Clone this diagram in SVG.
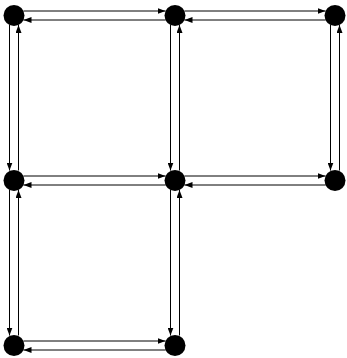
<svg xmlns="http://www.w3.org/2000/svg" width="347" height="358" viewBox="0 0 347 358">
<style>
.e{fill:none;stroke:#000;stroke-width:1;marker-end:url(#ah)}
.n{fill:#000}
</style>
<defs>
<marker id="ah" markerUnits="userSpaceOnUse" markerWidth="9" markerHeight="6" refX="8" refY="3" orient="auto">
<path d="M0,0 L8,3 L0,6 z" fill="#000"/>
</marker>
</defs>
<rect width="347" height="358" fill="#fff"/>
<g id="connectors">
<path class="e" d="M23.5,11 L165.5,11"/>
<path class="e" d="M165.5,20 L23.5,20"/>
<path class="e" d="M184.5,11 L325.5,11"/>
<path class="e" d="M325.5,20 L184.5,20"/>
<path class="e" d="M23.5,176 L165.5,176"/>
<path class="e" d="M165.5,185 L23.5,185"/>
<path class="e" d="M184.5,176 L325.5,176"/>
<path class="e" d="M325.5,185 L184.5,185"/>
<path class="e" d="M23.5,341 L165.5,341"/>
<path class="e" d="M165.5,350 L23.5,350"/>
<path class="e" d="M9.5,25 L9.5,170.5"/>
<path class="e" d="M18.5,170.5 L18.5,25"/>
<path class="e" d="M9.5,190 L9.5,335.5"/>
<path class="e" d="M18.5,335.5 L18.5,190"/>
<path class="e" d="M170.5,25 L170.5,170.5"/>
<path class="e" d="M179.5,170.5 L179.5,25"/>
<path class="e" d="M170.5,190 L170.5,335.5"/>
<path class="e" d="M179.5,335.5 L179.5,190"/>
<path class="e" d="M330.5,25 L330.5,170.5"/>
<path class="e" d="M339.5,170.5 L339.5,25"/>
</g>
<g id="n1"><circle class="n" cx="14" cy="15.5" r="10.5"/></g>
<g id="n2"><circle class="n" cx="175" cy="15.5" r="10.5"/></g>
<g id="n3"><circle class="n" cx="335" cy="15.5" r="10.5"/></g>
<g id="n4"><circle class="n" cx="14" cy="180.5" r="10.5"/></g>
<g id="n5"><circle class="n" cx="175" cy="180.5" r="10.5"/></g>
<g id="n6"><circle class="n" cx="335" cy="180.5" r="10.5"/></g>
<g id="n7"><circle class="n" cx="14" cy="345.5" r="10.5"/></g>
<g id="n8"><circle class="n" cx="175" cy="345.5" r="10.5"/></g>
</svg>
